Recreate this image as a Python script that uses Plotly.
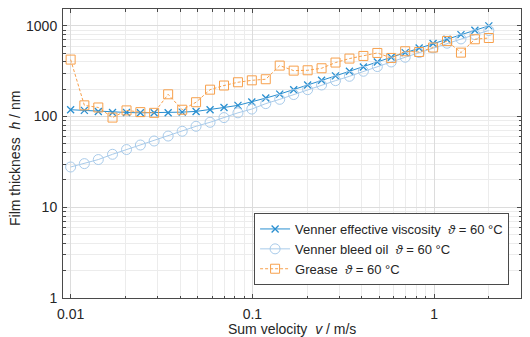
import plotly.graph_objects as go

velocity = [0.0100, 0.0119, 0.0142, 0.0170, 0.0203, 0.0242, 0.0288, 0.0344,
            0.0411, 0.0490, 0.0585, 0.0698, 0.0833, 0.0993, 0.1185, 0.1414,
            0.1688, 0.2014, 0.2403, 0.2867, 0.3420, 0.4081, 0.4870, 0.5809,
            0.6931, 0.8270, 0.9867, 1.1774, 1.4050, 1.6760, 2.0000]

venner_eff = [119, 117, 114, 111, 111, 110, 110, 110, 112, 114, 119, 126, 133, 145,
              160, 177, 198, 223, 251, 281, 316, 352, 400, 451, 507, 571, 638, 712,
              801, 894, 1000]

venner_bleed = [27.8, 30.3, 33.6, 38.4, 43.3, 48.6, 53.8, 61, 68.9, 78.2, 86.5, 97.5,
                110, 121, 139, 155, 175, 198, 223, 249, 278, 316, 356, 400, 451, 507,
                571, 644, 718, 801, 888]

grease = [425, 133, 126, 97.5, 117, 112, 110, 176, 119, 144, 198, 220, 239, 251,
          258, 365, 321, 324, 341, 394, 436, 466, 503, 443, 525, 515, 577, 682,
          507, 712, 735]

names = ["Venner effective viscosity  <i>ϑ</i> = 60 °C",
         "Venner bleed oil  <i>ϑ</i> = 60 °C",
         "Grease  <i>ϑ</i> = 60 °C"]

x_title = "Sum velocity  <i>v</i> / m/s"
y_title = "Film thickness  <i>h</i> / nm"

FONT = "Liberation Sans, Arial, sans-serif"
TXT = "#262626"
c_eff = "#2a8fd0"
c_bleed = "#a9cbea"
c_grease = "#f7a04c"

fig = go.Figure()
fig.add_trace(go.Scatter(x=velocity, y=venner_eff, mode="lines+markers", name=names[0],
                         line=dict(color=c_eff, width=1),
                         marker=dict(symbol="x-thin-open", size=7,
                                     line=dict(color=c_eff, width=1.3))))
fig.add_trace(go.Scatter(x=velocity, y=venner_bleed, mode="lines+markers", name=names[1],
                         line=dict(color=c_bleed, width=1),
                         marker=dict(symbol="circle-open", size=10,
                                     line=dict(color=c_bleed, width=1))))
fig.add_trace(go.Scatter(x=velocity, y=grease, mode="lines+markers", name=names[2],
                         line=dict(color=c_grease, width=1, dash="3px,2px"),
                         marker=dict(symbol="square-open", size=9,
                                     line=dict(color=c_grease, width=1))))

axis_common = dict(
    type="log", dtick=1, showline=True, mirror="allticks", linecolor="#4a4a4a",
    linewidth=1, ticks="inside", ticklen=4, tickcolor="#4a4a4a",
    showgrid=True, gridcolor="#dcdcdc", gridwidth=1, zeroline=False,
    automargin=False,
    tickfont=dict(family=FONT, size=14, color=TXT),
    minor=dict(dtick="D1", ticks="inside", ticklen=2.5, tickcolor="#4a4a4a",
               showgrid=True, gridcolor="#ececec", gridwidth=1),
)

fig.update_xaxes(range=[-2.042, 0.478], ticklabelstandoff=3, **axis_common)
fig.update_yaxes(range=[0, 3.186], ticklabelstandoff=2, **axis_common)

fig.add_annotation(text=x_title, xref="paper", yref="paper", x=0.5, y=-0.106,
                   xanchor="center", yanchor="middle", showarrow=False,
                   font=dict(family=FONT, size=14, color=TXT))
fig.add_annotation(text=y_title, xref="paper", yref="paper", x=-0.105, y=0.484,
                   xanchor="center", yanchor="middle", textangle=-90, showarrow=False,
                   font=dict(family=FONT, size=14, color=TXT))

fig.update_layout(
    width=530, height=337,
    margin=dict(l=63, r=9, t=9, b=39),
    paper_bgcolor="white", plot_bgcolor="white",
    font=dict(family=FONT, size=13, color=TXT),
    legend=dict(x=0.974, y=0.045, xanchor="right", yanchor="bottom",
                bgcolor="white", bordercolor="#4a4a4a", borderwidth=1,
                font=dict(family=FONT, size=13, color=TXT),
                itemwidth=30, tracegroupgap=0),
    showlegend=True,
)

fig.write_html("out.html")
